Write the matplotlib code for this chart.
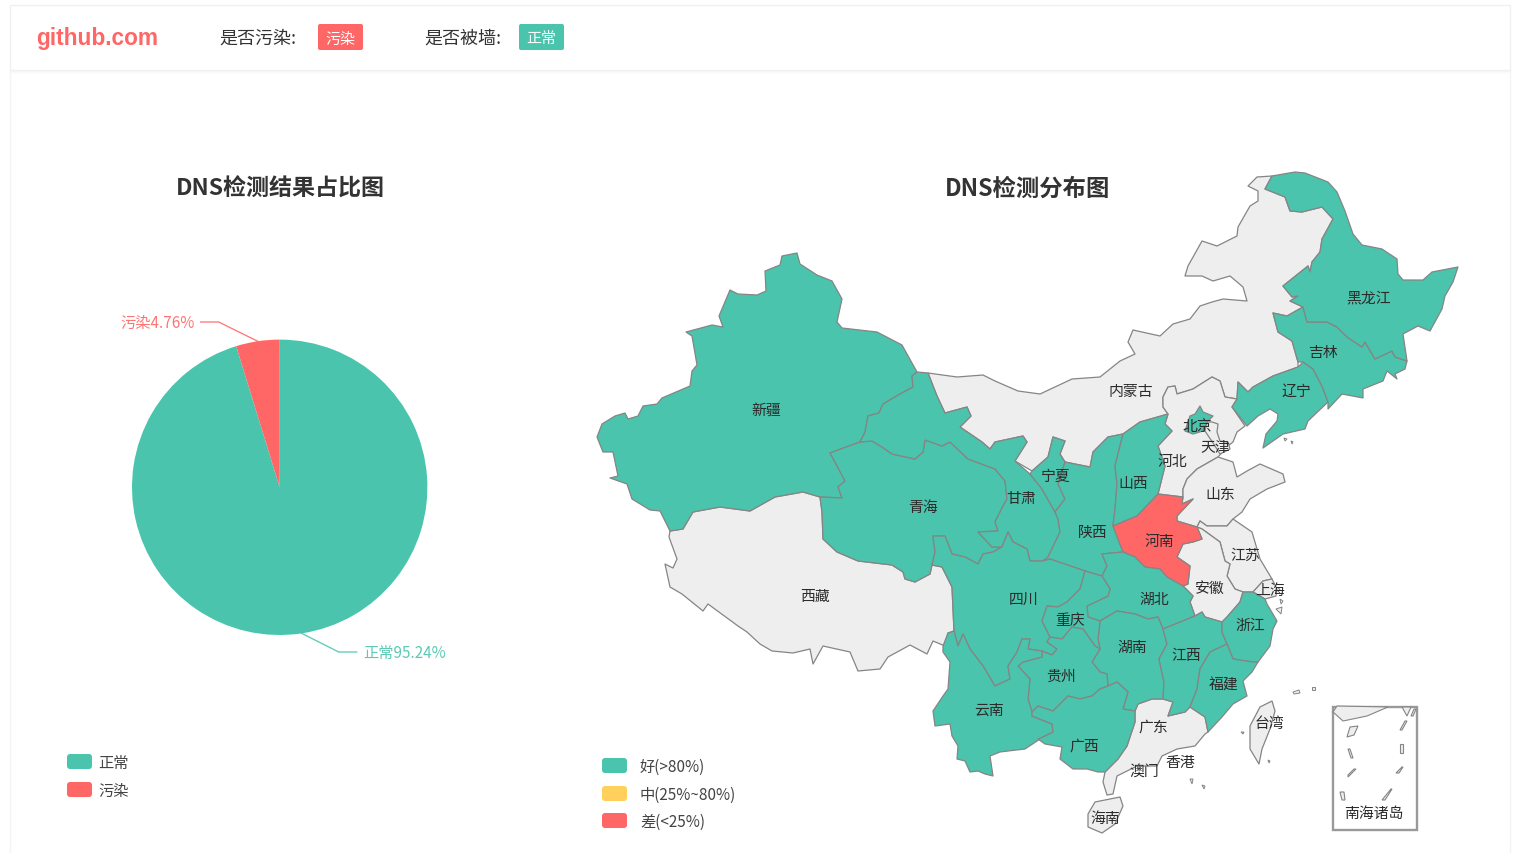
import matplotlib
matplotlib.use("Agg")
import math
import matplotlib.pyplot as plt
from matplotlib.patches import FancyBboxPatch, Rectangle, Polygon

plt.rcParams['font.family'] = ['Noto Sans CJK SC', 'DejaVu Sans']

TEAL, RED, YELLOW, GRAY = '#4AC4AC', '#FF6666', '#FFD05C', '#EEEEEE'
EDGE = '#858585'

# ---- data ----
pie_names = ['正常', '污染']
pie_values = [95.24, 4.76]
pie_colors = [TEAL, RED]
map_legend = ['好(>80%)', '中(25%~80%)', '差(<25%)']
map_legend_colors = [TEAL, YELLOW, RED]
grade_good = ['新疆','青海','甘肃','宁夏','陕西','山西','四川','重庆','云南','贵州','广西','湖北','湖南','江西',
              '浙江','福建','辽宁','吉林','黑龙江','北京']
grade_bad = ['河南']

xinjiang = [(782,257),(797,254),(800,265),(817,276),(832,282),(842,300),(837,323),(842,329),(877,333),(902,346),(917,373),
 (912,377),(913,388),(900,395),(883,405),(879,414),(868,417),(865,433),(860,443),(830,454),(835,463),(845,482),(838,488),(842,499),
 (820,498),(803,493),(775,498),(750,512),(720,508),(693,513),(683,530),(670,532),(660,512),(650,511),(632,500),(627,485),(610,479),
 (618,477),(613,453),(603,453),(597,438),(602,425),(615,417),(625,414),(628,420),(638,417),(643,407),(657,405),(662,399),(690,387),
 (692,372),(697,366),(692,337),(686,333),(712,326),(723,328),(719,317),(730,291),(738,295),(757,296),(766,292),(765,272),(780,266)]
xizang = [(670,532),(683,530),(693,513),(720,508),(750,512),(775,498),(803,493),(820,498),(822,513),(823,540),(837,553),(858,562),
 (892,566),(903,573),(905,580),(915,583),(930,575),(932,566),(942,568),(952,588),(954,632),(948,634),(945,647),(933,642),(927,655),
 (910,646),(888,658),(880,670),(858,672),(850,653),(823,647),(813,665),(810,650),(793,654),(772,652),(760,645),(747,633),(738,627),
 (708,605),(703,612),(682,595),(670,588),(665,565),(673,569),(677,560),(669,538)]
qinghai = [(830,454),(860,443),(872,442),(882,448),(892,455),(915,460),(923,453),(925,441),(942,447),(950,443),(968,460),(995,470),
 (1005,482),(1007,500),(1003,507),(995,523),(998,532),(978,533),(992,548),(1002,548),(993,553),(983,555),(978,565),(965,558),(952,555),
 (945,537),(933,537),(935,553),(932,566),(930,575),(915,583),(905,580),(903,573),(892,566),(858,562),(837,553),(823,540),(822,513),
 (820,498),(842,499),(838,488),(845,482),(835,463)]
gansu = [(917,373),(928,374),(937,397),(945,414),(967,408),(971,417),(960,428),(982,443),(990,450),(995,443),(1023,437),(1027,443),
 (1015,462),(1030,475),(1042,490),(1055,513),(1058,520),(1060,533),(1048,558),(1043,562),(1030,562),(1027,550),(1013,543),(1008,533),
 (1002,548),(992,548),(978,533),(998,532),(995,523),(1003,507),(1007,500),(1005,482),(995,470),(968,460),(950,443),(942,447),(925,441),
 (923,453),(915,460),(892,455),(882,448),(872,442),(860,443),(865,433),(868,417),(879,414),(883,405),(900,395),(913,388),(912,377)]
neimenggu = [(928,374),(957,378),(983,376),(995,382),(1018,392),(1040,395),(1072,380),(1100,378),(1120,362),(1135,355),(1128,343),
 (1133,331),(1160,337),(1173,325),(1190,320),(1200,307),(1212,303),(1223,300),(1247,302),(1243,288),(1230,277),(1213,282),(1202,277),
 (1185,277),(1188,267),(1202,242),(1217,247),(1237,237),(1238,228),(1250,207),(1258,202),(1258,192),(1248,187),(1257,178),(1272,177),
 (1265,190),(1285,198),(1290,212),(1302,213),(1322,208),(1333,220),(1322,240),(1320,253),(1312,263),(1310,273),(1308,267),(1283,287),
 (1292,298),(1298,297),(1290,302),(1303,308),(1287,317),(1273,314),(1278,333),(1292,342),(1298,363),(1298,368),(1273,377),(1253,388),
 (1248,393),(1238,383),(1237,400),(1225,398),(1220,382),(1212,378),(1193,390),(1177,395),(1175,387),(1168,388),(1163,398),(1163,408),
 (1168,415),(1140,423),(1123,435),(1108,438),(1093,453),(1090,468),(1065,463),(1060,455),(1065,442),(1053,438),(1048,458),(1032,472),
 (1015,462),(1027,443),(1023,437),(995,443),(990,450),(982,443),(960,428),(971,417),(967,408),(945,414),(937,397)]
ningxia = [(1053,438),(1065,442),(1060,455),(1065,463),(1058,485),(1065,500),(1055,513),(1042,490),(1030,475),(1032,472),(1048,458)]
shaanxi = [(1065,463),(1090,468),(1093,453),(1108,438),(1123,435),(1115,467),(1117,485),(1115,510),(1113,527),(1123,553),(1102,555),
 (1107,567),(1102,577),(1085,572),(1050,560),(1043,562),(1048,558),(1060,533),(1058,520),(1055,513),(1065,500),(1058,485)]
shanxi = [(1123,435),(1140,423),(1168,415),(1165,425),(1172,432),(1158,447),(1165,467),(1158,495),(1137,517),(1113,527),(1115,510),
 (1117,485),(1115,467)]
henan = [(1158,495),(1183,498),(1182,505),(1193,500),(1177,517),(1177,522),(1197,528),(1202,540),(1193,543),(1183,545),(1177,558),
 (1190,567),(1188,585),(1183,587),(1167,578),(1160,570),(1145,568),(1135,558),(1123,553),(1113,527),(1137,517)]
hubei = [(1102,555),(1123,553),(1135,558),(1145,568),(1160,570),(1167,578),(1183,587),(1193,597),(1190,603),(1195,617),(1163,630),
 (1158,618),(1148,620),(1135,615),(1117,612),(1100,622),(1088,618),(1087,607),(1108,597),(1110,590),(1102,577),(1107,567)]
hunan = [(1100,622),(1117,612),(1135,615),(1148,620),(1158,618),(1163,630),(1167,645),(1159,660),(1164,683),(1163,700),(1152,700),
 (1138,705),(1135,712),(1123,710),(1128,693),(1117,683),(1108,687),(1107,675),(1100,673),(1092,663),(1100,650),(1098,640)]
jiangxi = [(1163,630),(1195,617),(1202,613),(1205,618),(1222,623),(1222,633),(1227,645),(1210,653),(1200,670),(1197,690),(1190,708),
 (1185,713),(1168,717),(1173,703),(1163,700),(1164,683),(1159,660),(1167,645)]
anhui = [(1183,587),(1188,585),(1190,567),(1177,558),(1183,545),(1193,543),(1202,540),(1197,528),(1202,530),(1220,543),(1225,562),
 (1230,565),(1227,577),(1235,590),(1243,593),(1240,603),(1227,618),(1222,623),(1205,618),(1202,613),(1195,617),(1190,603),(1193,597)]
zhejiang = [(1222,623),(1227,618),(1240,603),(1243,593),(1253,593),(1265,600),(1267,605),(1277,622),(1273,630),(1270,647),(1258,663),
 (1253,663),(1233,660),(1227,645),(1222,633)]
fujian = [(1227,645),(1233,660),(1253,663),(1258,663),(1252,673),(1243,682),(1247,697),(1233,705),(1222,718),(1208,733),(1205,718),
 (1190,708),(1197,690),(1200,670),(1210,653)]
jiangsu = [(1197,528),(1200,522),(1207,527),(1227,527),(1233,520),(1252,533),(1260,560),(1272,580),(1263,582),(1253,593),(1243,593),
 (1235,590),(1227,577),(1230,565),(1225,562),(1220,543),(1202,530)]
shanghai = [(1263,582),(1272,580),(1277,590),(1276,597),(1265,600),(1253,593)]
shandong = [(1218,458),(1233,463),(1237,478),(1247,472),(1260,465),(1283,475),(1285,483),(1267,490),(1250,500),(1242,513),(1233,520),
 (1227,527),(1207,527),(1200,522),(1197,528),(1177,522),(1177,517),(1193,500),(1182,505),(1183,498),(1183,490),(1187,480),(1197,470)]
hebei = [(1168,415),(1163,408),(1163,398),(1168,388),(1175,387),(1177,395),(1193,390),(1212,378),(1220,382),(1225,398),(1237,400),
 (1232,408),(1245,427),(1237,433),(1233,443),(1228,447),(1218,458),(1197,470),(1187,480),(1183,490),(1183,498),(1158,495),(1165,467),
 (1158,447),(1172,432),(1165,425)]
beijing = [(1200,407),(1203,413),(1213,417),(1207,423),(1203,432),(1193,435),(1185,432),(1190,417),(1195,415)]
tianjin = [(1205,432),(1207,423),(1212,423),(1218,425),(1217,433),(1220,442),(1228,443),(1230,450),(1220,455),(1215,447)]
liaoning = [(1238,383),(1248,393),(1253,388),(1273,377),(1298,368),(1303,363),(1313,370),(1322,387),(1328,403),(1308,422),(1305,430),
 (1283,435),(1263,449),(1266,435),(1277,422),(1278,415),(1270,410),(1258,417),(1247,427),(1232,408),(1237,400)]
jilin = [(1273,314),(1287,317),(1303,308),(1307,323),(1327,323),(1337,328),(1347,338),(1362,348),(1365,343),(1375,360),(1392,352),
 (1395,358),(1407,362),(1405,370),(1395,375),(1397,380),(1387,372),(1383,382),(1363,390),(1363,399),(1342,395),(1328,410),(1328,403),
 (1322,387),(1313,370),(1303,363),(1298,363),(1292,342),(1278,333)]
heilongjiang = [(1272,177),(1295,173),(1305,174),(1328,183),(1337,193),(1345,212),(1353,235),(1362,246),(1382,250),(1397,260),(1398,275),
 (1403,281),(1423,281),(1432,273),(1458,268),(1453,283),(1445,297),(1442,310),(1430,332),(1418,327),(1403,335),(1407,362),(1395,358),
 (1392,352),(1375,360),(1365,343),(1362,348),(1347,338),(1337,328),(1327,323),(1307,323),(1303,308),(1290,302),(1298,297),(1292,298),
 (1283,287),(1308,267),(1310,273),(1312,263),(1320,253),(1322,240),(1333,220),(1322,208),(1302,213),(1290,212),(1285,198),(1265,190)]
sichuan = [(932,566),(935,553),(933,537),(945,537),(952,555),(965,558),(978,565),(983,555),(993,553),(1002,548),(1008,533),(1013,543),
 (1027,550),(1030,562),(1043,562),(1050,560),(1085,572),(1080,590),(1067,603),(1058,608),(1047,607),(1042,622),(1050,638),(1047,643),
 (1057,650),(1052,656),(1042,652),(1028,650),(1030,640),(1022,640),(1017,653),(1008,667),(1010,680),(995,687),(983,667),(970,650),
 (963,635),(958,647),(954,632),(952,588),(942,568)]
chongqing = [(1085,572),(1102,577),(1110,590),(1108,597),(1087,607),(1088,618),(1100,622),(1098,640),(1100,650),(1095,647),(1083,630),
 (1072,628),(1062,640),(1050,638),(1042,622),(1047,607),(1058,608),(1067,603),(1080,590)]
guizhou = [(1050,638),(1062,640),(1072,628),(1083,630),(1095,647),(1100,650),(1092,663),(1100,673),(1107,675),(1108,687),(1100,690),
 (1092,697),(1080,700),(1068,697),(1053,712),(1038,707),(1032,713),(1028,700),(1030,680),(1018,667),(1023,663),(1042,658),(1042,652),
 (1052,656),(1057,650),(1047,643)]
yunnan = [(954,632),(958,647),(963,635),(970,650),(983,667),(995,687),(1010,680),(1008,667),(1017,653),(1022,640),(1030,640),(1028,650),
 (1042,652),(1042,658),(1023,663),(1018,667),(1030,680),(1028,700),(1032,713),(1032,717),(1052,725),(1053,733),(1043,738),(1025,750),
 (1008,752),(1000,753),(990,757),(993,777),(985,775),(978,772),(970,773),(965,762),(957,760),(958,747),(952,737),(950,725),(935,727),
 (933,712),(943,697),(948,690),(950,663),(943,653),(943,647),(948,634)]
guangxi = [(1032,713),(1038,707),(1053,712),(1068,697),(1080,700),(1092,697),(1100,690),(1108,687),(1117,683),(1128,693),(1123,710),
 (1135,712),(1135,723),(1127,747),(1118,760),(1105,773),(1098,773),(1087,770),(1073,770),(1060,760),(1062,748),(1045,745),(1038,740),
 (1043,738),(1053,733),(1052,725),(1032,717)]
guangdong = [(1135,712),(1138,705),(1152,700),(1163,700),(1173,703),(1168,717),(1185,713),(1190,708),(1205,718),(1208,733),(1205,735),
 (1195,747),(1177,750),(1162,757),(1157,767),(1137,767),(1117,777),(1113,795),(1107,796),(1103,783),(1105,773),(1118,760),(1127,747),(1135,723)]
hainan = [(1095,803),(1120,798),(1123,807),(1115,825),(1102,834),(1088,828),(1088,815)]
taiwan = [(1272,702),(1275,712),(1270,730),(1262,750),(1259,765),(1250,750),(1250,727),(1260,708)]
islets = [[(1293,693),(1299,691),(1300,694),(1294,695)],[(1312,688),(1315,688),(1315,691),(1312,691)],
 [(1190,780),(1193,780),(1192,785)],[(1202,786),(1205,787),(1204,790)],[(1276,610),(1282,608),(1281,615)],
 [(1280,600),(1283,602),(1281,605)],[(1284,439),(1287,440),(1285,442)],[(1291,442),(1293,443),(1292,445)],
 [(1241,733),(1244,733),(1243,735)],[(1268,761),(1270,762),(1269,764)]]

provinces = [('西藏',xizang),('内蒙古',neimenggu),('河北',hebei),('山东',shandong),('江苏',jiangsu),('安徽',anhui),('上海',shanghai),
 ('广东',guangdong),('海南',hainan),('台湾',taiwan),('天津',tianjin),('新疆',xinjiang),('青海',qinghai),('甘肃',gansu),('宁夏',ningxia),
 ('陕西',shaanxi),('山西',shanxi),('河南',henan),('湖北',hubei),('湖南',hunan),('江西',jiangxi),('浙江',zhejiang),('福建',fujian),
 ('北京',beijing),('辽宁',liaoning),('吉林',jilin),('黑龙江',heilongjiang),('四川',sichuan),('重庆',chongqing),('贵州',guizhou),
 ('云南',yunnan),('广西',guangxi)]

labels = {'新疆':(766,410),'内蒙古':(1131,391),'黑龙江':(1369,297),'吉林':(1323,352),'辽宁':(1296,391),'北京':(1197,426),
 '天津':(1215,447),'河北':(1172,461),'山西':(1133,483),'山东':(1220,494),'宁夏':(1056,476),'甘肃':(1021,498),'青海':(923,507),
 '陕西':(1093,532),'河南':(1159,541),'江苏':(1245,555),'安徽':(1210,588),'上海':(1270,590),'湖北':(1154,599),'四川':(1024,599),
 '西藏':(815,596),'重庆':(1070,620),'浙江':(1250,625),'湖南':(1132,647),'江西':(1186,655),'贵州':(1061,676),'福建':(1224,685),
 '云南':(989,710),'广东':(1153,727),'台湾':(1269,723),'广西':(1084,746),'香港':(1180,762),'澳门':(1144,771),'海南':(1105,818),
 '南海诸岛':(1374,813)}

inset_land = [(1337,707),(1388,708),(1367,717),(1343,722),(1333,713)]
inset_tri = [(1402,708),(1411,708),(1407,717)]
inset_isles = [[(1350,728),(1358,727),(1354,736),(1347,738)],[(1348,750),(1350,750),(1353,759),(1351,759)],
 [(1402,731),(1407,722),(1405,722),(1400,731)],[(1413,717),(1416,710),(1414,710),(1411,717)],[(1400,745),(1403,745),(1403,754),(1400,754)],
 [(1348,778),(1356,770),(1354,770),(1348,776)],[(1396,774),(1402,768),(1403,768),(1399,774)],[(1340,793),(1344,793),(1345,801),(1342,801)],
 [(1382,801),(1391,790),(1392,790),(1385,801)]]

# ---- figure ----
fig = plt.figure(figsize=(15.2, 8.54), dpi=100, facecolor='white')
ax = fig.add_axes([0, 0, 1, 1])
ax.set_xlim(0, 1520); ax.set_ylim(854, 0); ax.axis('off')

# page card and header
ax.add_patch(Rectangle((10, 70), 1500, 800, fc='white', ec='#F4F4F4', lw=1))
for i, a in enumerate([0.05, 0.04, 0.03, 0.02, 0.01]):
    ax.add_patch(Rectangle((11, 70 + i), 1498, 1, fc='black', ec='none', alpha=a))
ax.add_patch(Rectangle((10, 5.5), 1500, 65, fc='white', ec='#F0F0F0', lw=1))
ax.text(36, 39, 'github.com', color=RED, fontsize=16.3, fontweight='bold', family='Liberation Sans', va='center', ha='left')
ax.text(219.5, 38.5, '是否污染:', color='#333333', fontsize=13, va='center', ha='left')
ax.text(424.5, 38.5, '是否被墙:', color='#333333', fontsize=13, va='center', ha='left')
def badge(x0, x1, y0, y1, col, s):
    ax.add_patch(FancyBboxPatch((x0 + 2, y0 + 2), x1 - x0 - 4, y1 - y0 - 4, boxstyle='round,pad=2,rounding_size=2', fc=col, ec='none'))
    ax.text((x0 + x1) / 2, (y0 + y1) / 2 + 1.5, s, color='white', fontsize=10.8, va='center', ha='center')
badge(318, 363, 25, 51, RED, '污染')
badge(519, 564, 25, 51, TEAL, '正常')

ax.text(280, 189, 'DNS检测结果占比图', color='#333333', fontsize=16.6, fontweight='bold', ha='center', va='center')
ax.text(1028, 189, 'DNS检测分布图', color='#333333', fontsize=16.8, fontweight='bold', ha='center', va='center')

# pie
cx, cy, r = 279.7, 488.3, 147.7
pax = fig.add_axes([(cx - r) / 1520, 1 - (cy + r) / 854, 2 * r / 1520, 2 * r / 854])
pax.pie(pie_values, colors=pie_colors, startangle=90, counterclock=False, radius=1.0)
pax.set_xlim(-1, 1); pax.set_ylim(-1, 1); pax.axis('off')

cum = 0
side_geom = {'正常': (37, 18, 7), '污染': (-39, -18, -6)}
for name, val, col in zip(pie_names, pie_values, pie_colors):
    mid = math.radians((cum + val / 2) * 3.6)
    cum += val
    x0, y0 = cx + r * math.sin(mid), cy - r * math.cos(mid)
    d1, d2, gap = side_geom[name]
    y1 = 653 if name == '正常' else 323
    x1 = x0 + d1; x2 = x1 + d2
    ax.plot([x0, x1, x2], [y0, y1, y1], color=col, lw=1, alpha=0.85, solid_joinstyle='round')
    ax.text(x2 + gap, y1, f'{name}{val}%', color=col, alpha=0.9, fontsize=11, va='center',
            ha='left' if d1 > 0 else 'right')

def legend_item(x, ytop, col, s, tx):
    ax.add_patch(FancyBboxPatch((x + 3, ytop + 3), 19, 9, boxstyle='round,pad=3,rounding_size=3', fc=col, ec='none'))
    ax.text(tx, ytop + 8, s, color='#444444', fontsize=11, va='center', ha='left')
for name, col, yt in zip(pie_names, pie_colors, [755, 783]):
    legend_item(67, yt, col, name, 98)
for name, col, yt in zip(map_legend, map_legend_colors, [759, 787, 814]):
    legend_item(602, yt, col, name, 640)

# map
def color_of(n):
    return TEAL if n in grade_good else RED if n in grade_bad else GRAY
for name, pts in provinces:
    ax.add_patch(Polygon(pts, closed=True, fc=color_of(name), ec=EDGE, lw=0.9, joinstyle='round'))
for pts in islets:
    ax.add_patch(Polygon(pts, closed=True, fc=GRAY, ec=EDGE, lw=0.7))

# inset
ax.add_patch(Rectangle((1333, 708), 84, 123, fc='white', ec='#999999', lw=1.7))
for pts in [inset_land, inset_tri] + inset_isles:
    ax.add_patch(Polygon(pts, closed=True, fc=GRAY, ec=EDGE, lw=0.8))

for n, (x, y) in labels.items():
    ax.text(x, y + 1, n, color='#2B2B2B', fontsize=10.7, ha='center', va='center')

fig.savefig('out.png', dpi=100, facecolor='white')
